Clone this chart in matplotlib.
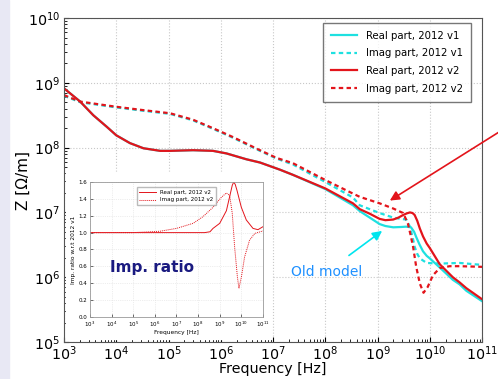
import numpy as np
import matplotlib as mpl
import matplotlib.pyplot as plt
from matplotlib.patches import Rectangle

#%% Data (log10 of frequency and of |Z|)

# Real part, 2012 v2 (red solid)
lf_re_v2 = [3.0, 3.31, 3.56, 3.82, 4.0, 4.26, 4.52, 4.84, 5.03, 5.47, 5.85, 6.11,
            6.49, 6.75, 7.13, 7.38, 8.0, 8.53, 8.66, 8.85, 9.04, 9.15, 9.30, 9.40,
            9.49, 9.56, 9.62, 9.67, 9.71, 9.76, 9.81, 9.87, 9.94, 10.0, 10.19,
            10.44, 10.57, 10.70, 11.0]
lz_re_v2 = [8.915, 8.71, 8.50, 8.32, 8.19, 8.07, 7.99, 7.95, 7.95, 7.96, 7.95, 7.91,
            7.82, 7.77, 7.66, 7.58, 7.37, 7.14, 7.05, 6.98, 6.90, 6.88, 6.89, 6.92,
            6.96, 6.985, 7.00, 6.99, 6.96, 6.87, 6.75, 6.63, 6.52, 6.45, 6.20,
            6.00, 5.92, 5.83, 5.66]

# Real part, 2012 v1 (cyan solid)
lf_re_v1 = [3.0, 3.31, 3.56, 3.82, 4.0, 4.26, 4.52, 4.84, 5.03, 5.47, 5.85, 6.11,
            6.49, 6.75, 7.13, 7.38, 8.0, 8.53, 8.66, 8.85, 9.04, 9.15, 9.30, 9.45,
            9.55, 9.64, 9.70, 9.74, 9.80, 9.87, 9.94, 10.0, 10.19, 10.44, 10.57,
            10.70, 11.0]
lz_re_v1 = [8.915, 8.71, 8.50, 8.32, 8.19, 8.07, 7.99, 7.95, 7.95, 7.96, 7.95, 7.91,
            7.82, 7.77, 7.66, 7.58, 7.36, 7.11, 7.02, 6.92, 6.82, 6.79, 6.77, 6.775,
            6.78, 6.77, 6.70, 6.62, 6.51, 6.40, 6.33, 6.29, 6.15, 5.96, 5.89,
            5.79, 5.63]

# Imag part, 2012 v2 (red dashed)
lf_im_v2 = [3.0, 3.31, 4.0, 4.5, 5.03, 5.47, 5.85, 6.24, 6.62, 6.75, 7.07, 7.38,
            8.0, 8.53, 8.66, 8.85, 9.04, 9.30, 9.49, 9.58, 9.63, 9.68, 9.74, 9.81,
            9.88, 9.96, 10.06, 10.19, 10.38, 10.57, 11.0]
lz_im_v2 = [8.81, 8.71, 8.63, 8.58, 8.53, 8.43, 8.30, 8.16, 8.01, 7.96, 7.84, 7.76,
            7.50, 7.29, 7.24, 7.19, 7.14, 7.06, 6.99, 6.83, 6.66, 6.47, 6.16, 5.90,
            5.76, 5.85, 6.03, 6.14, 6.17, 6.17, 6.16]

# Imag part, 2012 v1 (cyan dashed)
lf_im_v1 = [3.0, 3.31, 4.0, 4.5, 5.03, 5.47, 5.85, 6.24, 6.62, 6.75, 7.07, 7.38,
            8.0, 8.53, 8.66, 9.04, 9.30, 9.45, 9.55, 9.62, 9.67, 9.71, 9.76, 9.81,
            9.94, 10.19, 10.57, 11.0]
lz_im_v1 = [8.80, 8.70, 8.62, 8.57, 8.52, 8.42, 8.29, 8.15, 8.00, 7.95, 7.83, 7.74,
            7.47, 7.23, 7.11, 6.99, 6.92, 6.90, 6.89, 6.78, 6.62, 6.47, 6.36, 6.29,
            6.22, 6.21, 6.22, 6.19]

# Inset: impedance ratio v2 / v1
lf_ratio_re = [3.0, 5.0, 7.0, 8.3, 8.55, 8.62, 8.69, 9.0, 9.31, 9.49, 9.58, 9.65,
               9.72, 9.8, 10.0, 10.23, 10.54, 10.77, 11.0]
ratio_re = [1.0, 1.0, 1.0, 1.0, 1.01, 1.03, 1.05, 1.11, 1.26, 1.46, 1.56, 1.60,
            1.57, 1.50, 1.30, 1.15, 1.05, 1.035, 1.07]
lf_ratio_im = [3.0, 4.0, 5.0, 6.23, 7.0, 7.77, 8.23, 8.69, 9.08, 9.31, 9.46, 9.58,
               9.69, 9.82, 9.89, 10.0, 10.15, 10.38, 10.62, 11.0]
ratio_im = [1.0, 1.0, 1.0, 1.016, 1.05, 1.11, 1.19, 1.30, 1.42, 1.47, 1.44, 1.23,
            0.83, 0.47, 0.34, 0.47, 0.71, 0.91, 0.99, 1.02]

legend_labels = ['Real part, 2012 v1', 'Imag part, 2012 v1',
                 'Real part, 2012 v2', 'Imag part, 2012 v2']

#%% Plot

red = '#e3141b'
cyan = '#1ee0e0'
dash = (0, (2.0, 1.5))

fig = plt.figure(figsize=(4.98, 3.79), dpi=100)
fig.patches.append(Rectangle((0, 0), 9/498, 1, transform=fig.transFigure,
                             color='#e8e8f4', zorder=-10))

ax = fig.add_axes([0.1285, 0.0976, 0.968 - 0.1285, 0.9525 - 0.0976])
ax.plot(10**np.array(lf_re_v1), 10**np.array(lz_re_v1), color=cyan, lw=1.6, label=legend_labels[0])
ax.plot(10**np.array(lf_im_v1), 10**np.array(lz_im_v1), color=cyan, lw=1.6, ls=dash, label=legend_labels[1])
ax.plot(10**np.array(lf_re_v2), 10**np.array(lz_re_v2), color=red, lw=1.6, label=legend_labels[2])
ax.plot(10**np.array(lf_im_v2), 10**np.array(lz_im_v2), color=red, lw=1.6, ls=dash, label=legend_labels[3])
ax.set_xscale('log')
ax.set_yscale('log')
ax.set_xlim(1e3, 1e11)
ax.set_ylim(1e5, 1e10)
ax.xaxis.set_major_locator(mpl.ticker.LogLocator(base=10, numticks=20))
ax.grid(True, which='major', color='#c8c8c8', ls=':', lw=0.8)
ax.tick_params(which='both', direction='in', labelsize=10.3)
ax.tick_params(axis='x', pad=2)
ax.tick_params(axis='y', pad=3)
for s in ax.spines.values():
    s.set_color('#555555')
ax.set_xlabel('Frequency [Hz]', fontsize=10.3, labelpad=-1)
ax.set_ylabel('Z [Ω/m]', fontsize=11)
ax.yaxis.set_label_coords(-0.08, 0.5)
ax.legend(loc='upper right', fontsize=7.3, handlelength=2.6, borderpad=0.8,
          labelspacing=0.75, fancybox=False, edgecolor='#555555',
          borderaxespad=0.3, bbox_to_anchor=(0.98, 0.995))

# Arrows and text
ax.annotate('', xy=(10**9.19, 10**7.16), xytext=(10**11.6, 10**8.38),
            arrowprops=dict(arrowstyle='-|>', color=red, lw=1.2, mutation_scale=14),
            annotation_clip=False)
ax.annotate('', xy=(10**9.13, 10**6.74), xytext=(10**8.41, 10**6.31),
            arrowprops=dict(arrowstyle='-|>', color='#00e5ee', lw=1.2, mutation_scale=14))
ax.text(10**8.03, 10**6.08, 'Old model', color='#1e90ff', fontsize=10,
        ha='center', va='center')

# White background behind the inset picture
fig.patches.append(Rectangle((66/498, 1 - 339/379), (271 - 66)/498, (339 - 172)/379,
                             transform=fig.transFigure, color='white', zorder=2))

# Inset with impedance ratio
axi = fig.add_axes([0.1807, 0.1636, 0.528 - 0.1807, 0.5198 - 0.1636], zorder=3)
axi.plot(10**np.array(lf_ratio_re), ratio_re, color=red, lw=0.7, label='Real part, 2012 v2')
axi.plot(10**np.array(lf_ratio_im), ratio_im, color=red, lw=0.7, ls=(0, (1, 1)), label='Imag part, 2012 v2')
axi.set_xscale('log')
axi.set_xlim(1e3, 1e11)
axi.set_ylim(0, 1.6)
axi.set_yticks(np.arange(0, 1.61, 0.2))
axi.xaxis.set_major_locator(mpl.ticker.LogLocator(base=10, numticks=20))
axi.xaxis.set_minor_locator(mpl.ticker.NullLocator())
axi.grid(True, color='#dddddd', ls=':', lw=0.5)
axi.tick_params(labelsize=4, length=2, width=0.4, direction='in', pad=2)
for s in axi.spines.values():
    s.set_color('#999999')
    s.set_linewidth(0.6)
axi.set_xlabel('Frequency [Hz]', fontsize=4.2, labelpad=1)
axi.set_ylabel('Imp. ratio w.r.t 2012 v1', fontsize=4.2, labelpad=2)
axi.legend(loc='upper center', fontsize=4, handlelength=3, frameon=True,
           fancybox=False, edgecolor='#aaaaaa', bbox_to_anchor=(0.5, 0.98))
axi.text(0.36, 0.37, 'Imp. ratio', transform=axi.transAxes, fontsize=11,
         fontweight='bold', color='#1a1a80', ha='center', va='center')

plt.savefig('out.png', dpi=100)
